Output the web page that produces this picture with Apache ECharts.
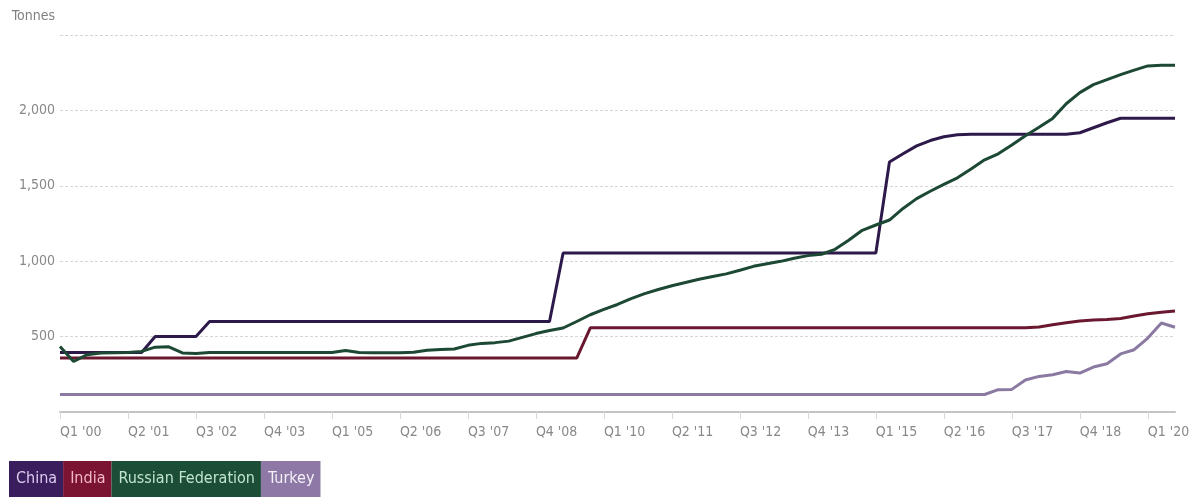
<!DOCTYPE html>
<html>
<head>
<meta charset="utf-8">
<title>Gold reserves</title>
<script src="https://cdn.jsdelivr.net/npm/echarts@6/dist/echarts.min.js"></script>
<style>
  html, body { margin: 0; padding: 0; background: #fff; }
  #chart { width: 1203px; height: 498px; }
</style>
</head>
<body>
<div id="chart"></div>
<script>
// Quarterly gold reserves, tonnes
const quarters = [
  "Q1 '00","Q2 '00","Q3 '00","Q4 '00","Q1 '01","Q2 '01","Q3 '01","Q4 '01",
  "Q1 '02","Q2 '02","Q3 '02","Q4 '02","Q1 '03","Q2 '03","Q3 '03","Q4 '03",
  "Q1 '04","Q2 '04","Q3 '04","Q4 '04","Q1 '05","Q2 '05","Q3 '05","Q4 '05",
  "Q1 '06","Q2 '06","Q3 '06","Q4 '06","Q1 '07","Q2 '07","Q3 '07","Q4 '07",
  "Q1 '08","Q2 '08","Q3 '08","Q4 '08","Q1 '09","Q2 '09","Q3 '09","Q4 '09",
  "Q1 '10","Q2 '10","Q3 '10","Q4 '10","Q1 '11","Q2 '11","Q3 '11","Q4 '11",
  "Q1 '12","Q2 '12","Q3 '12","Q4 '12","Q1 '13","Q2 '13","Q3 '13","Q4 '13",
  "Q1 '14","Q2 '14","Q3 '14","Q4 '14","Q1 '15","Q2 '15","Q3 '15","Q4 '15",
  "Q1 '16","Q2 '16","Q3 '16","Q4 '16","Q1 '17","Q2 '17","Q3 '17","Q4 '17",
  "Q1 '18","Q2 '18","Q3 '18","Q4 '18","Q1 '19","Q2 '19","Q3 '19","Q4 '19",
  "Q1 '20","Q2 '20","Q3 '20"
];

const china = [
  395, 395, 395, 395, 395, 395, 395, 500, 500, 500, 500,
  600, 600, 600, 600, 600, 600, 600, 600, 600, 600, 600, 600, 600,
  600, 600, 600, 600, 600, 600, 600, 600, 600, 600, 600, 600, 600,
  1054, 1054, 1054, 1054, 1054, 1054, 1054, 1054, 1054, 1054, 1054, 1054,
  1054, 1054, 1054, 1054, 1054, 1054, 1054, 1054, 1054, 1054, 1054, 1054,
  1658, 1712, 1765, 1800, 1825, 1839,
  1842, 1842, 1842, 1842, 1842, 1842, 1842, 1842,
  1852, 1885, 1918, 1948, 1948, 1948, 1948, 1948
];

const india = [
  358, 358, 358, 358, 358, 358, 358, 358, 358, 358, 358, 358, 358,
  358, 358, 358, 358, 358, 358, 358, 358, 358, 358, 358, 358, 358,
  358, 358, 358, 358, 358, 358, 358, 358, 358, 358, 358, 358, 358,
  558, 558, 558, 558, 558, 558, 558, 558, 558, 558, 558,
  558, 558, 558, 558, 558, 558, 558, 558, 558, 558, 558,
  558, 558, 558, 558, 558, 558, 558, 558, 558, 558, 558,
  563, 578, 592, 603, 610, 614, 620, 636, 652, 662, 670
];

const russia = [
  435, 335, 380, 391, 393, 395, 402, 430, 432, 392, 388,
  395, 395, 395, 395, 395, 395, 395, 395, 395,
  394, 408, 395, 393, 393, 393, 396, 410, 414, 418,
  442, 455, 460, 470, 495, 520, 540, 557, 600, 645,
  680, 713, 752, 785, 812, 837, 859, 880, 898, 916,
  940, 966, 983, 999, 1020, 1037, 1046, 1079, 1139, 1205,
  1240, 1273, 1350, 1415, 1464, 1509, 1553, 1612, 1672, 1712,
  1770, 1832, 1888, 1947, 2044, 2118, 2171, 2204, 2237, 2267,
  2295, 2299, 2300
];

const turkey = [
  116, 116, 116, 116, 116, 116, 116, 116, 116, 116, 116, 116, 116,
  116, 116, 116, 116, 116, 116, 116, 116, 116, 116, 116, 116, 116,
  116, 116, 116, 116, 116, 116, 116, 116, 116, 116, 116, 116, 116,
  116, 116, 116, 116, 116, 116, 116, 116, 116, 116, 116, 116, 116,
  116, 116, 116, 116, 116, 116, 116, 116, 116, 116, 116, 116, 116,
  116, 116, 116, 116,
  148, 150, 212, 236, 247, 268, 258, 298, 320, 385, 413, 490, 590, 562
];

const yTicks = [0, 500, 1000, 1500, 2000, 2500];

const FONT = "'DejaVu Sans Condensed', 'DejaVu Sans', sans-serif";

const palette = {
  China: { line: '#2e1a4a', box: '#3a1d5c', text: '#dccbf0' },
  India: { line: '#6a1830', box: '#7a1432', text: '#f3b9c8' },
  'Russian Federation': { line: '#1c4834', box: '#1b4d37', text: '#c0e4cd' },
  Turkey: { line: '#8a7aa1', box: '#8e79a6', text: '#f4f0f8' }
};

const seriesData = [
  ['China', china],
  ['India', india],
  ['Russian Federation', russia],
  ['Turkey', turkey]
];

const chart = echarts.init(document.getElementById('chart'), null, { renderer: 'canvas' });

chart.setOption({
  animation: false,
  textStyle: { fontFamily: FONT },
  tooltip: { trigger: 'axis' },
  grid: { left: 60, right: 28, top: 35, bottom: 86, containLabel: false },
  legend: {
    left: 4,
    top: 461,
    padding: 0,
    itemGap: -5,
    itemWidth: 0,
    itemHeight: 0,
    selectedMode: true,
    data: seriesData.map(([name]) => ({
      name,
      icon: 'rect',
      itemStyle: { opacity: 0 },
      textStyle: {
        fontFamily: FONT,
        fontSize: 16,
        lineHeight: 16,
        color: palette[name].text,
        backgroundColor: palette[name].box,
        padding: [10, 6, 10, 7]
      }
    }))
  },
  xAxis: {
    type: 'category',
    data: quarters,
    boundaryGap: false,
    axisLine: { lineStyle: { color: '#c4c4c4', width: 2 } },
    axisTick: { interval: 4, length: 7, lineStyle: { color: '#d8d8d8' } },
    axisLabel: {
      interval: 4,
      align: 'left',
      margin: 13,
      color: '#888888',
      fontSize: 14,
      fontFamily: FONT
    },
    splitLine: { show: false }
  },
  yAxis: {
    type: 'value',
    min: yTicks[0],
    max: yTicks[yTicks.length - 1],
    interval: 500,
    name: 'Tonnes',
    nameLocation: 'end',
    nameGap: 12,
    nameTextStyle: { color: '#808080', fontSize: 14, align: 'right', padding: [0, 5, 0, 0], fontFamily: FONT },
    axisLine: { show: false },
    axisTick: { show: false },
    axisLabel: {
      color: '#888888',
      fontSize: 14,
      margin: 5,
      fontFamily: FONT,
      formatter: v => (v === yTicks[0] || v === yTicks[yTicks.length - 1]) ? '' : v.toLocaleString('en-US')
    },
    splitLine: { lineStyle: { color: '#d6d6d6', type: [3, 2], width: 1 } }
  },
  series: seriesData.map(([name, values]) => ({
    name,
    type: 'line',
    data: values,
    showSymbol: false,
    symbol: 'none',
    lineStyle: { color: palette[name].line, width: 3 },
    itemStyle: { color: palette[name].line },
    emphasis: { disabled: true }
  }))
});
</script>
</body>
</html>
